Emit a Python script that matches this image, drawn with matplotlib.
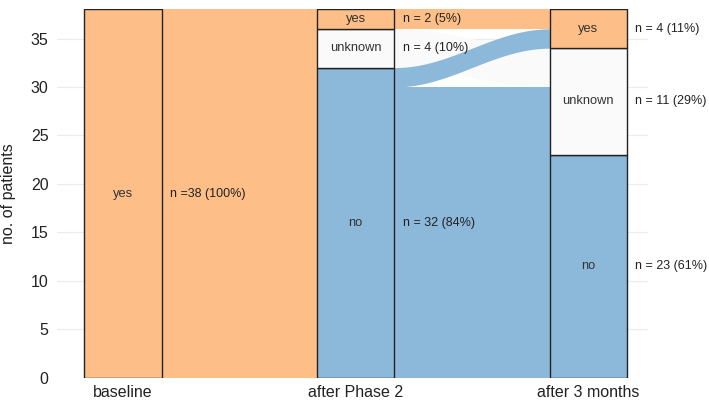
import matplotlib
matplotlib.use("Agg")
import matplotlib.pyplot as plt
import numpy as np

plt.rcParams["font.family"] = ["Liberation Sans", "DejaVu Sans"]

stages = ["baseline", "after Phase 2", "after 3 months"]
categories = ["no", "unknown", "yes"]  # stacking order, bottom to top

# patients per response category at each time point
counts = {
    "baseline": {"no": 0, "unknown": 0, "yes": 38},
    "after Phase 2": {"no": 32, "unknown": 4, "yes": 2},
    "after 3 months": {"no": 23, "unknown": 11, "yes": 4},
}
count_labels = {
    "baseline": {"yes": "n =38 (100%)"},
    "after Phase 2": {"no": "n = 32 (84%)", "unknown": "n = 4 (10%)", "yes": "n = 2 (5%)"},
    "after 3 months": {"no": "n = 23 (61%)", "unknown": "n = 11 (29%)", "yes": "n = 4 (11%)"},
}

# transitions: (from stage index, from category, to category, n)
flows = [
    (0, "yes", "no", 32),
    (0, "yes", "unknown", 4),
    (0, "yes", "yes", 2),
    (1, "no", "no", 23),
    (1, "no", "unknown", 7),
    (1, "no", "yes", 2),
    (1, "unknown", "unknown", 4),
    (1, "yes", "yes", 2),
]

colors = {"no": "#8cb8d9", "unknown": "#fafafa", "yes": "#fdbf87"}
width = 1 / 3

fig = plt.figure(figsize=(7.09, 4.03), dpi=100)
ax = fig.add_axes([0.0804, 0.0628, 0.834, 0.915])

# stratum bottoms
bottoms = {}
for s in stages:
    b = 0
    bottoms[s] = {}
    for c in categories:
        bottoms[s][c] = b
        b += counts[s][c]

# flows
t = np.linspace(0, 1, 120)
smooth = (1 - np.cos(np.pi * t)) / 2
for i in range(len(stages) - 1):
    left, right = stages[i], stages[i + 1]
    sub = [f for f in flows if f[0] == i]
    lpos = {}
    off = dict(bottoms[left])
    for c_from in categories:
        for c_to in categories:
            for f in sub:
                if f[1] == c_from and f[2] == c_to:
                    lpos[(c_from, c_to)] = off[c_from]
                    off[c_from] += f[3]
    rpos = {}
    off = dict(bottoms[right])
    for c_to in categories:
        for c_from in categories:
            for f in sub:
                if f[1] == c_from and f[2] == c_to:
                    rpos[(c_from, c_to)] = off[c_to]
                    off[c_to] += f[3]
    x0, x1 = i + 1 + width / 2, i + 2 - width / 2
    xs = x0 + (x1 - x0) * t
    for _, c_from, c_to, n in sub:
        y0, y1 = lpos[(c_from, c_to)], rpos[(c_from, c_to)]
        lo = y0 + (y1 - y0) * smooth
        z = 1.5 if c_from == "unknown" else 2
        ax.fill_between(xs, lo, lo + n, color=colors[c_from], lw=0, zorder=z)

# strata
for j, s in enumerate(stages):
    x = j + 1
    for c in categories:
        n = counts[s][c]
        if n == 0:
            continue
        b = bottoms[s][c]
        ax.bar(x, n, width=width, bottom=b, color=colors[c], edgecolor="#222222",
               linewidth=1.0, zorder=3)
        ax.text(x, b + n / 2, c, ha="center", va="center", fontsize=9.3,
                color="#333333", zorder=4)
        ax.text(x + width / 2 + 0.035, b + n / 2, count_labels[s][c], ha="left",
                va="center", fontsize=9, color="#222222", zorder=4, clip_on=False)

ax.set_xlim(0.716, 3.258)
ax.set_ylim(0, 38.05)
ax.set_xticks([1, 2, 3])
ax.set_xticklabels(stages, fontsize=11.5, color="#222222")
ax.set_yticks(range(0, 36, 5))
ax.tick_params(axis="y", labelsize=11.5, colors="#222222", length=0, pad=6)
ax.tick_params(axis="x", length=0, pad=5)
ax.set_ylabel("no. of patients", fontsize=11.5, color="#222222")
ax.yaxis.set_label_coords(-0.069, 0.5)
ax.grid(True, color="#ebebeb", lw=0.8, zorder=0)
ax.set_axisbelow(True)
for sp in ax.spines.values():
    sp.set_visible(False)

fig.savefig("out.png", dpi=100, facecolor="white")
